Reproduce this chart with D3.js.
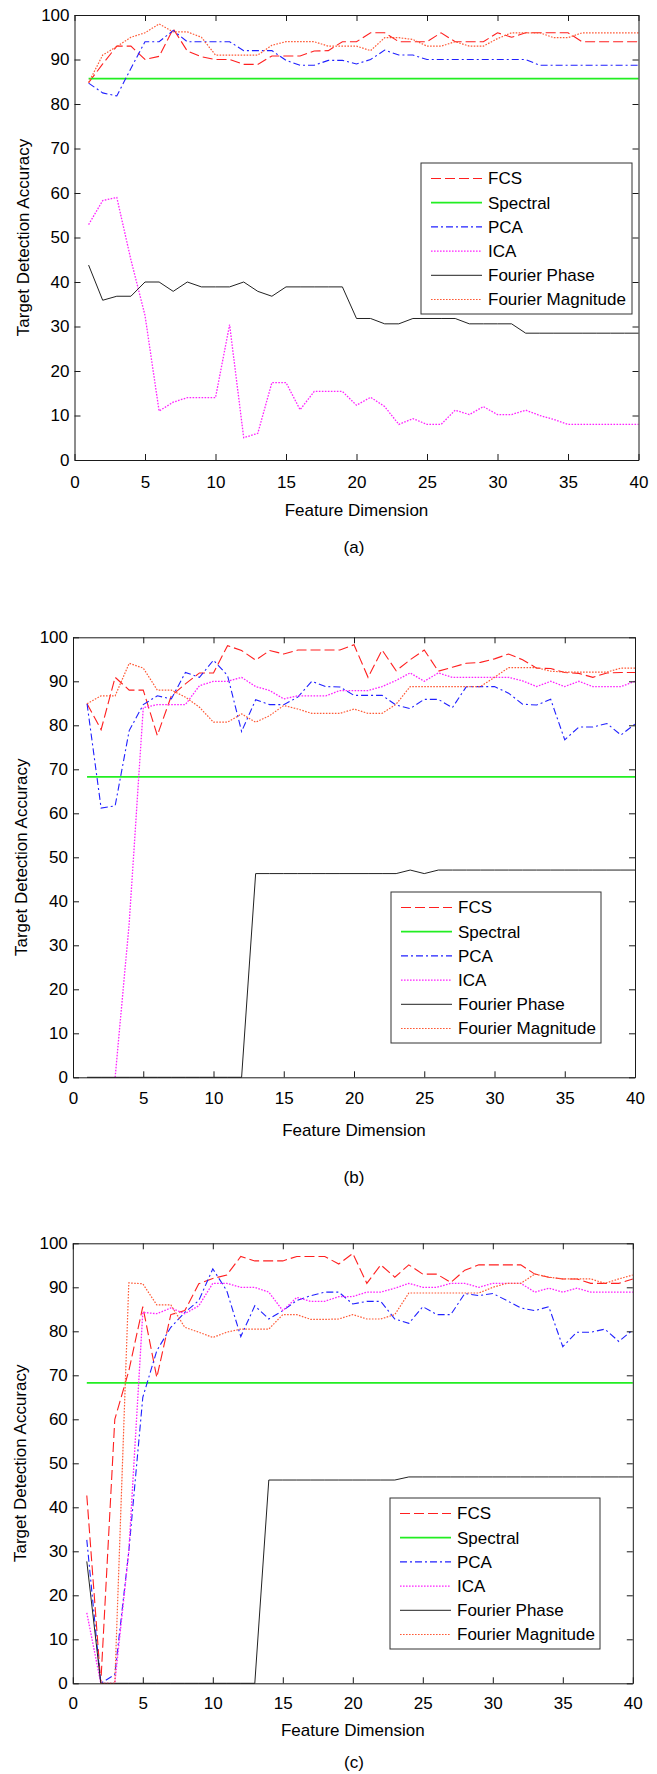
<!DOCTYPE html>
<html>
<head>
<meta charset="utf-8">
<script src="https://cdn.jsdelivr.net/npm/d3@7"></script>
<style>
  body { margin: 0; background: #fff; }
  text { font-family: "Liberation Sans", Arial, sans-serif; fill: #000; }
</style>
</head>
<body>
<div class="chart"></div>
<script>
// Feature dimensions (x) and ticks
var dims = [1,2,3,4,5,6,7,8,9,10,11,12,13,14,15,16,17,18,19,20,
            21,22,23,24,25,26,27,28,29,30,31,32,33,34,35,36,37,38,39,40];
var xTicks = [0, 5, 10, 15, 20, 25, 30, 35, 40];
var yTicks = [0, 10, 20, 30, 40, 50, 60, 70, 80, 90, 100];
var seriesNames = ["FCS", "Spectral", "PCA", "ICA", "Fourier Phase", "Fourier Magnitude"];

// ---- panel (a)
var fcsA = [84.8,89,93,93,90,90.7,96.9,91.9,90.6,90,90,88.9,88.9,90.8,90.8,90.8,91.9,92,94,94,
            96,96,94,94,94,96,94,94,94,96,95,96,96,96,96,94,94,94,94,94];
var spectralA = 85.7;
var pcaA = [84.7,82.5,81.8,88,94,94,96.5,94,94,94,94,92,92,92,89.8,88.7,88.7,89.8,89.8,89,
            90,92.1,91,91,90,90,90,90,90,90,90,90,88.7,88.7,88.7,88.7,88.7,88.7,88.7,88.7];
var icaA = [52.9,58.3,59,45,32.5,11,13,14,14,14,30.4,5,6,17.4,17.4,11.3,15.4,15.4,15.4,12.3,
            14.1,12,8,9.3,8,8,11.2,10.2,12,10.2,10.2,11.2,10,9.1,8,8,8,8,8,8];
var phaseA = [43.8,35.9,36.8,36.8,40,40,37.9,40,38.9,38.9,38.9,40,37.9,36.8,38.9,38.9,38.9,38.9,38.9,31.8,
              31.8,30.6,30.6,31.8,31.8,31.8,31.8,30.6,30.6,30.6,30.6,28.5,28.5,28.5,28.5,28.5,28.5,28.5,28.5,28.5];
var magA = [84.8,91,92.9,95,96,98,96.2,96.2,95,91,91,91,91,93.2,94,94,94,93,93,93,
            92,94.9,94.9,94.5,93,93,94,93,93,94.7,96,96,96,94.9,94.9,96,96,96,96,96];

// ---- panel (b)
var fcsB = [84.9,79,90.9,88,88,77.7,86.7,89.4,91.9,91.9,98.1,97,94.8,97,96.2,97.1,97.1,97.1,97.1,98.3,
            90.9,97.1,92.4,94.9,97.1,92.3,93.2,94.1,94.3,95.1,96.2,94.9,93,92.9,92,91.8,90.9,91.9,92,92];
var spectralB = 68.3;
var pcaB = [84.9,61.2,61.7,78.8,84.7,86.7,86,92,90.9,94.8,91.3,78.6,85.8,84.7,84.7,86.4,90,88.8,88.7,86.8,
            86.8,86.8,84.6,83.8,85.9,85.9,84,88.8,88.8,88.8,87.3,84.8,84.6,85.9,76.7,79.6,79.6,80.4,77.8,80.3];
var icaB = [null,null,0,35,84,84.7,84.7,84.7,89,90,90,90.9,88.8,87.9,86,86.7,86.7,86.7,87.9,87.9,
            87.9,88.8,90.2,91.9,90,91.9,90.9,90.9,90.9,90.9,90.9,90.1,88.8,90,88.8,90,88.8,88.8,88.8,90];
var phaseB = [0,0,0,0,0,0,0,0,0,0,0,0,46.3,46.3,46.3,46.3,46.3,46.3,46.3,46.3,
              46.3,46.3,46.3,47.1,46.3,47.1,47.1,47.1,47.1,47.1,47.1,47.1,47.1,47.1,47.1,47.1,47.1,47.1,47.1,47.1];
var magB = [84.9,86.7,86.7,94.1,93,88,88,86.4,84.1,80.7,80.7,82.6,80.7,82.2,84.5,83.7,82.7,82.7,82.7,83.7,
            82.7,82.7,84.8,88.8,88.8,88.8,88.8,88.8,88.8,90.9,93.1,93.1,93.1,92.3,92.1,92.1,92.1,92.1,93,93];

// ---- panel (c)
var fcsC = [42.7,0,60,71,85.6,69.5,83.8,84.7,90.8,92,92.8,97,96,96,96,97,97,97,95.3,97.7,
            90.9,95.1,92.3,95.1,93,93,91.1,93.9,95.1,95.1,95.1,95.1,93,92.3,91.9,91.9,90.9,90.9,90.9,91.9];
var spectralC = 68.3;
var pcaC = [32.6,0,2,30,65,75.6,80.9,84.3,87,94.2,89.2,78.8,85.8,82.8,84.7,87,88.1,88.9,88.9,86.2,
            86.8,86.8,82.8,81.8,85.6,83.8,83.8,88.6,88.1,88.6,87,85.3,84.7,85.6,76.5,79.8,79.8,80.5,77.7,80.3];
var icaC = [16,0,0,30,84.3,84,85.3,84,85.8,90.9,90.9,90,90,88.9,84.7,87.7,86.8,86.8,87.9,87.9,
            88.9,88.9,89.8,90.9,90,90,90.9,90.9,90,90.9,90.9,90.9,88.9,89.8,88.9,89.8,88.9,88.9,88.9,88.9];
var phaseC = [27.7,0,0,0,0,0,0,0,0,0,0,0,0,46.2,46.2,46.2,46.2,46.2,46.2,46.2,
              46.2,46.2,46.2,46.9,46.9,46.9,46.9,46.9,46.9,46.9,46.9,46.9,46.9,46.9,46.9,46.9,46.9,46.9,46.9,46.9];
var magC = [null,0,0,91,90.8,86,86,80.9,79.8,78.6,79.8,80.5,80.5,80.5,83.8,83.8,82.7,82.7,82.8,83.8,
            82.8,82.8,83.8,88.7,88.7,88.7,88.7,88.7,88.7,90,90.9,90.9,93,92.3,91.9,91.9,91.9,90.9,91.9,92.8];

// line styles, in legend order
var styles = [
  { color: "#ff1f1f", dash: "10,4", width: 1.1 },
  { color: "#22ee22", dash: null, width: 1.7 },
  { color: "#2020ff", dash: "7,3,2,3", width: 1.1 },
  { color: "#ff22ff", dash: "1.6,1.4", width: 1.3 },
  { color: "#222222", dash: null, width: 1 },
  { color: "#ff5a36", dash: "1.6,1.4", width: 1.2 }
];

var svgWidth = 657;
var svgHeight = 1774;

var svg = d3.select(".chart")
  .append("svg")
  .attr("width", svgWidth)
  .attr("height", svgHeight);

var panels = [
  { label: "(a)", left: 74.5, right: 638.5, top: 15, bottom: 460,
    tickY: 482, titleY: 510, tagY: 547, axisLabelX: 23,
    legend: { x: 421, y: 163, w: 211, h: 151 },
    data: [fcsA, spectralA, pcaA, icaA, phaseA, magA] },
  { label: "(b)", left: 73, right: 635, top: 637.3, bottom: 1077.3,
    tickY: 1098.5, titleY: 1130, tagY: 1177, axisLabelX: 21,
    legend: { x: 391, y: 892, w: 210, h: 151 },
    data: [fcsB, spectralB, pcaB, icaB, phaseB, magB] },
  { label: "(c)", left: 72.8, right: 632.8, top: 1243.3, bottom: 1683.3,
    tickY: 1703, titleY: 1730, tagY: 1762, axisLabelX: 20,
    legend: { x: 390, y: 1498, w: 210, h: 151 },
    data: [fcsC, spectralC, pcaC, icaC, phaseC, magC] }
];

var fontSize = "17px";

panels.forEach(function(p) {
  var x = d3.scaleLinear().domain([0, 40]).range([p.left, p.right]);
  var y = d3.scaleLinear().domain([0, 100]).range([p.bottom, p.top]);
  var g = svg.append("g");

  var line = d3.line()
    .defined(d => d[1] !== null)
    .x(d => x(d[0]))
    .y(d => y(d[1]));

  // series lines
  p.data.forEach(function(vals, i) {
    var pts;
    if (Array.isArray(vals)) {
      pts = dims.map((d, k) => [d, vals[k]]);
    } else {
      pts = [[dims[0], vals], [dims[dims.length - 1], vals]];
    }
    g.append("path")
      .datum(pts)
      .attr("fill", "none")
      .attr("stroke", styles[i].color)
      .attr("stroke-width", styles[i].width)
      .attr("stroke-dasharray", styles[i].dash)
      .attr("d", line);
  });

  // axes (ticks point inward, box on all sides)
  var bottomAxis = d3.axisBottom(x).tickValues(xTicks).tickSize(-6).tickSizeOuter(0).tickPadding(0);
  var topAxis = d3.axisTop(x).tickValues(xTicks).tickSize(-6).tickSizeOuter(0).tickFormat("");
  var leftAxis = d3.axisLeft(y).tickValues(yTicks).tickSize(-6).tickSizeOuter(0).tickPadding(6);
  var rightAxis = d3.axisRight(y).tickValues(yTicks).tickSize(-6).tickSizeOuter(0).tickFormat("");

  var gb = g.append("g").attr("transform", `translate(0, ${p.bottom})`).call(bottomAxis);
  g.append("g").attr("transform", `translate(0, ${p.top})`).call(topAxis);
  var gl = g.append("g").attr("transform", `translate(${p.left}, 0)`).call(leftAxis);
  g.append("g").attr("transform", `translate(${p.right}, 0)`).call(rightAxis);

  g.selectAll(".domain, .tick line").attr("stroke", "#1a1a1a");
  g.selectAll(".tick text").style("font-size", fontSize).attr("fill", "#000");
  gb.selectAll(".tick text").attr("y", p.tickY - p.bottom).attr("dy", "0.35em");
  gl.selectAll(".tick text").attr("x", -5);

  // axis labels
  g.append("text")
    .attr("x", (p.left + p.right) / 2)
    .attr("y", p.titleY)
    .attr("dy", "0.35em")
    .attr("text-anchor", "middle")
    .style("font-size", fontSize)
    .text("Feature Dimension");

  g.append("text")
    .attr("transform", `translate(${p.axisLabelX}, ${(p.top + p.bottom) / 2}) rotate(-90)`)
    .attr("dy", "0.35em")
    .attr("text-anchor", "middle")
    .style("font-size", fontSize)
    .text("Target Detection Accuracy");

  g.append("text")
    .attr("x", 354)
    .attr("y", p.tagY)
    .attr("dy", "0.35em")
    .attr("text-anchor", "middle")
    .style("font-size", fontSize)
    .text(p.label);

  // legend
  var lg = g.append("g").attr("transform", `translate(${p.legend.x}, ${p.legend.y})`);
  lg.append("rect")
    .attr("width", p.legend.w)
    .attr("height", p.legend.h)
    .attr("fill", "#fff")
    .attr("stroke", "#333");

  seriesNames.forEach(function(name, i) {
    var ly = 15.5 + i * 24.2;
    lg.append("line")
      .attr("x1", 10).attr("x2", 61)
      .attr("y1", ly).attr("y2", ly)
      .attr("stroke", styles[i].color)
      .attr("stroke-width", styles[i].width)
      .attr("stroke-dasharray", styles[i].dash);
    lg.append("text")
      .attr("x", 67)
      .attr("y", ly)
      .attr("dy", "0.35em")
      .style("font-size", fontSize)
      .text(name);
  });
});
</script>
</body>
</html>
